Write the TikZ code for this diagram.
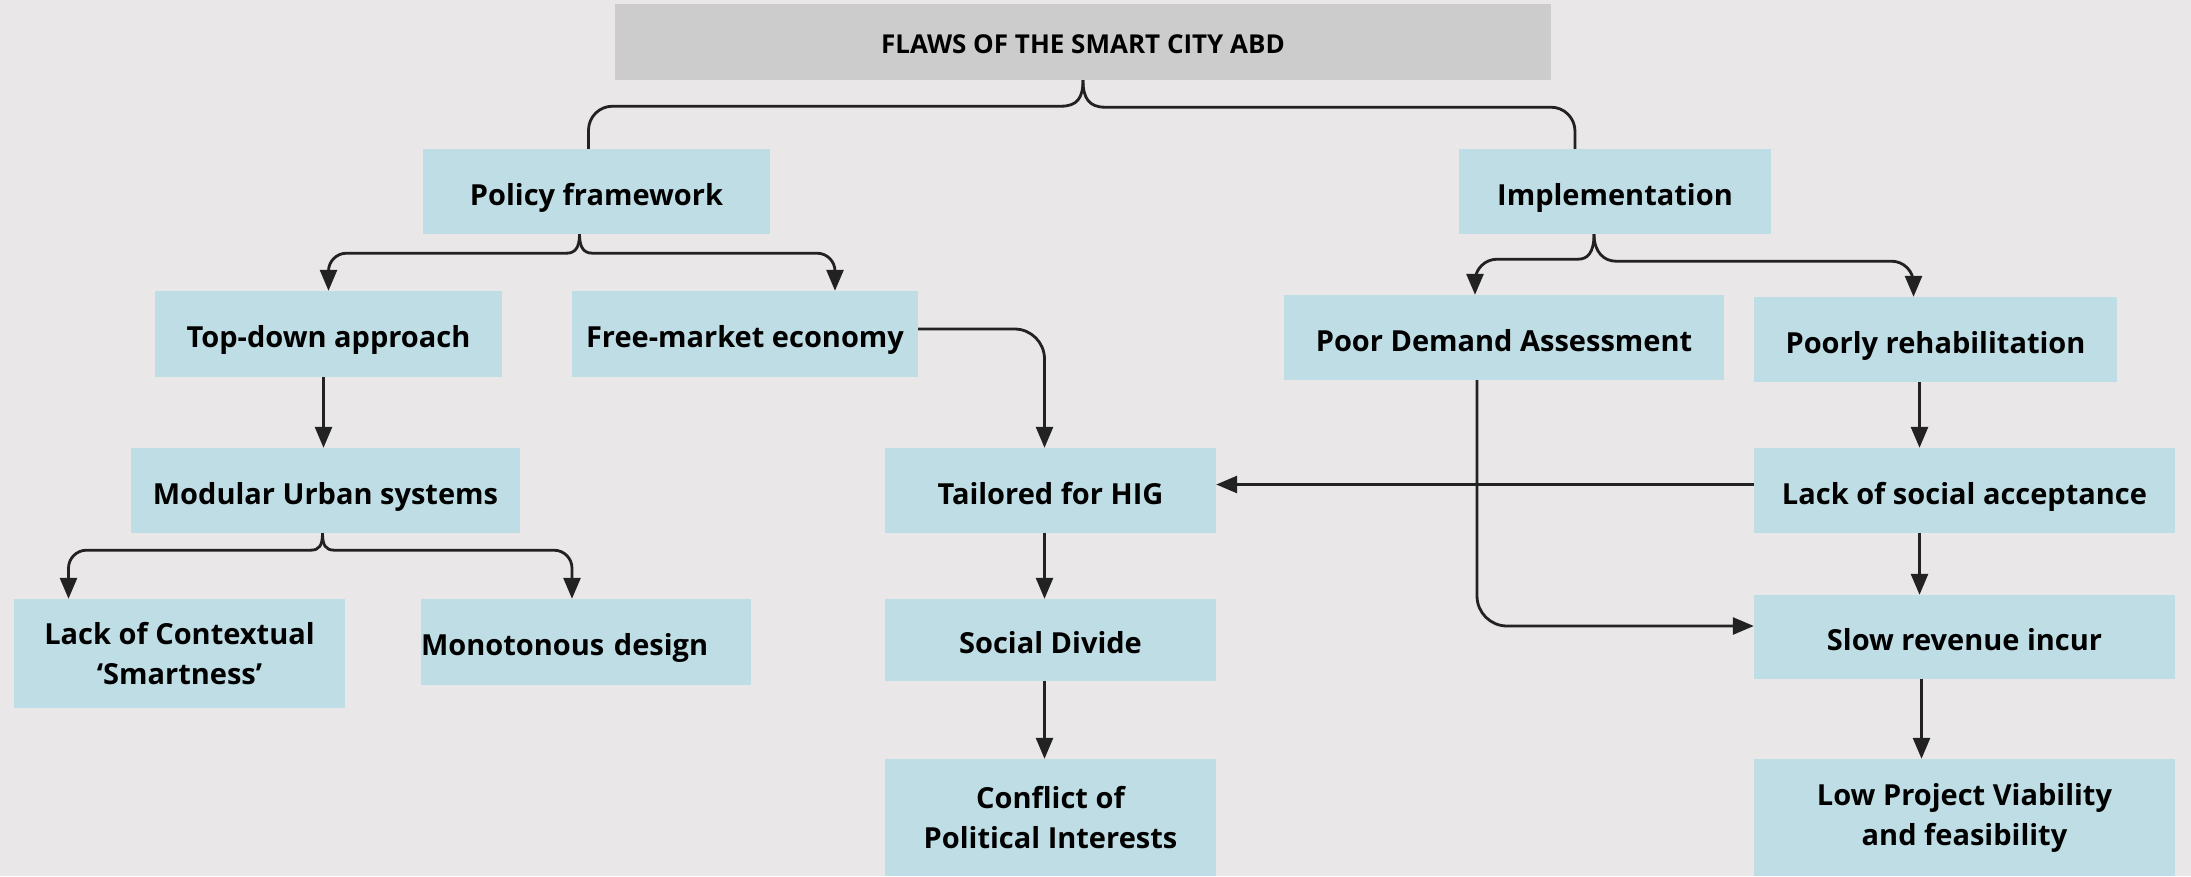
\documentclass[tikz,border=0pt]{standalone}
\usepackage{fontspec}
\setmainfont{Open Sans}
\usetikzlibrary{arrows.meta}
\definecolor{bgc}{HTML}{E9E7E8}
\definecolor{boxc}{HTML}{BFDDE5}
\definecolor{titc}{HTML}{CCCCCC}
\definecolor{linec}{HTML}{222222}
\tikzset{
  box/.style={fill=boxc, draw=none, inner sep=0pt, align=center,
    font=\fontsize{29}{40}\selectfont\bfseries, text=black},
  onebox/.style={box, text height=34pt, text depth=7pt},
  titlebox/.style={fill=titc, draw=none, inner sep=0pt, align=center,
    font=\fontsize{26}{30}\selectfont\bfseries, text=black,
    text height=22pt, text depth=0pt},
  conn/.style={draw=linec, line width=2.8pt},
  arr/.style={conn, -{Triangle[length=21pt,width=17pt]}},
}
\begin{document}
\begin{tikzpicture}[x=1pt,y=-1pt]
\fill[bgc] (0,0) rectangle (2191,876);
\useasboundingbox (0,0) rectangle (2191,876);

\node[titlebox, minimum width=936pt, minimum height=76pt] (title) at (1083,42) {FLAWS OF THE SMART CITY ABD};

\node[onebox, minimum width=347pt, minimum height=85pt] (pol) at (596.5,191.5) {Policy framework};
\node[onebox, minimum width=312pt, minimum height=85pt] (impl) at (1615,191.5) {Implementation};

\node[onebox, minimum width=347pt, minimum height=86pt] (td) at (328.5,334) {Top-down approach};
\node[onebox, minimum width=346pt, minimum height=86pt] (fm) at (745,334) {Free-market economy};
\node[onebox, minimum width=440pt, minimum height=85pt] (pda) at (1504,337.5) {Poor Demand Assessment};
\node[onebox, minimum width=363pt, minimum height=85pt] (prh) at (1935.5,339.5) {Poorly rehabilitation};

\node[onebox, minimum width=389pt, minimum height=85pt] (mod) at (325.5,490.5) {Modular Urban systems};
\node[onebox, minimum width=331pt, minimum height=85pt] (tail) at (1050.5,490.5) {Tailored for HIG};
\node[onebox, minimum width=421pt, minimum height=85pt] (lsa) at (1964.5,490.5) {Lack of social acceptance};

\node[box, minimum width=331pt, minimum height=109pt] (lcs) at (179.5,653.5) {Lack of Contextual\\‘Smartness’};
\node[onebox, minimum height=86pt, text width=330pt, align=left] (mono) at (586,642) {Monotonous design};
\node[onebox, minimum width=331pt, minimum height=82pt] (soc) at (1050.5,640) {Social Divide};
\node[onebox, minimum width=421pt, minimum height=84pt] (slow) at (1964.5,637) {Slow revenue incur};

\node[box, minimum width=331pt, minimum height=117pt] (conf) at (1050.5,817.5) {Conflict of\\Political Interests};
\node[box, minimum width=421pt, minimum height=117pt] (low) at (1964.5,817.5) {Low Project Viability\\and feasibility};

% top brace
\draw[conn] (title.south) .. controls +(0,18) and +(16,0) .. ++(-22,26) [rounded corners=24pt] -| ([xshift=-8pt]pol.north);
\draw[conn] (title.south) .. controls +(0,18) and +(-16,0) .. ++(22,27) [rounded corners=24pt] -| ([xshift=-40pt]impl.north);

% policy brace
\draw[arr] ([xshift=-17pt]pol.south) .. controls +(0,13) and +(9,0) .. ++(-13,19) [rounded corners=18pt] -| (td.north);
\draw[arr] ([xshift=-17pt]pol.south) .. controls +(0,13) and +(-9,0) .. ++(13,19) [rounded corners=18pt] -| ([xshift=90pt]fm.north);

% implementation brace
\draw[arr] ([xshift=-21pt]impl.south) .. controls +(0,18) and +(10,0) .. ++(-16,25) [rounded corners=22pt] -| ([xshift=-29pt]pda.north);
\draw[arr] ([xshift=-21pt]impl.south) .. controls +(0,18) and +(-12,0) .. ++(22,27) [rounded corners=22pt] -| ([xshift=-22pt]prh.north);

% modular brace
\draw[arr] ([xshift=-3pt]mod.south) .. controls +(0,12) and +(9,0) .. ++(-12,17) [rounded corners=18pt] -| ([xshift=-111pt]lcs.north);
\draw[arr] ([xshift=-3pt]mod.south) .. controls +(0,12) and +(-9,0) .. ++(12,17) [rounded corners=18pt] -| ([xshift=-14pt]mono.north);

% straight arrows
\draw[arr] ([xshift=-5pt]td.south) -- ([xshift=-5pt]td.south |- mod.north);
\draw[arr, rounded corners=30pt] ([yshift=5pt]fm.east) -| ([xshift=-6pt]tail.north);
\draw[arr] ([xshift=-6pt]tail.south) -- ([xshift=-6pt]soc.north);
\draw[arr] ([xshift=-6pt]soc.south) -- ([xshift=-6pt]conf.north);
\draw[arr] ([xshift=-16pt]prh.south) -- ([xshift=-16pt]prh.south |- lsa.north);
\draw[arr] ([xshift=-45pt]lsa.south) -- ([xshift=-45pt]slow.north);
\draw[arr] ([xshift=-43pt]slow.south) -- ([xshift=-43pt]low.north);
\draw[arr] ([yshift=6pt]lsa.west) -- ([yshift=6pt]tail.east);
\draw[arr, rounded corners=30pt] ([xshift=-27pt]pda.south) |- ([yshift=11pt]slow.west);
\end{tikzpicture}
\end{document}
